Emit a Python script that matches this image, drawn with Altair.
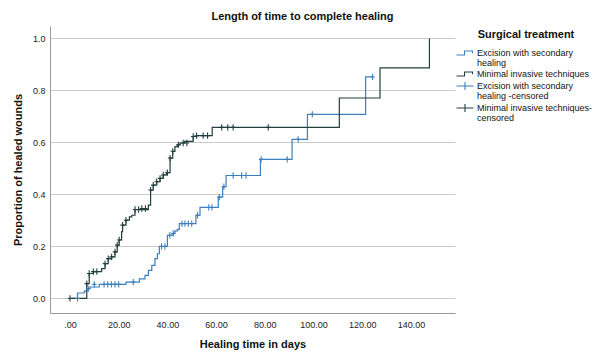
import altair as alt
import pandas as pd

EXC = "Excision with secondary healing"
MIT = "Minimal invasive techniques"
EXC_C = "Excision with secondary healing -censored"
MIT_C = "Minimal invasive techniques-censored"

# Kaplan-Meier style step curves (day, cumulative proportion healed)
exc_days = [0, 3.1, 5.9, 6.8, 8.2, 12.0, 23.0, 28.5, 30.8, 32.2, 33.6, 34.9, 35.9, 36.7,
            40.0, 42.4, 43.1, 44.1, 44.9, 51.7, 53.4, 60.9, 62.7, 64.1, 78.2, 91.2, 97.5,
            121.4, 124.3]
exc_prop = [0, 0.021, 0.028, 0.037, 0.044, 0.054, 0.063, 0.075, 0.089, 0.108, 0.127, 0.153,
            0.172, 0.200, 0.243, 0.250, 0.260, 0.266, 0.288, 0.320, 0.350, 0.390, 0.430,
            0.473, 0.535, 0.612, 0.708, 0.852, 0.852]

mit_days = [0, 6.9, 7.9, 9.6, 13.0, 14.4, 15.7, 17.1, 18.5, 19.4, 20.2, 21.2, 21.6, 23.0,
            24.4, 25.4, 26.7, 32.2, 33.1, 34.2, 35.6, 37.0, 38.3, 39.7, 41.1, 42.2, 43.1,
            44.1, 45.2, 47.0, 50.6, 52.0, 58.4, 110.6, 127.3, 147.6]
mit_prop = [0, 0.057, 0.096, 0.103, 0.115, 0.134, 0.153, 0.160, 0.179, 0.205, 0.225, 0.257,
            0.282, 0.301, 0.314, 0.320, 0.342, 0.359, 0.417, 0.436, 0.449, 0.462, 0.475,
            0.484, 0.540, 0.566, 0.584, 0.591, 0.598, 0.604, 0.623, 0.626, 0.658, 0.771,
            0.887, 1.0]

# censored observations
exc_cens_days = [3.1, 7.5, 10.0, 14.0, 15.5, 17.0, 18.5, 20.0, 26.0, 37.6, 39.0, 41.0, 42.4,
                 46.0, 47.2, 48.6, 50.0, 52.4, 57.0, 58.3, 61.3, 63.2, 67.0, 70.5, 72.3,
                 78.5, 89.2, 93.7, 99.5, 124.3]
exc_cens_prop = [0, 0.037, 0.054, 0.054, 0.054, 0.054, 0.054, 0.054, 0.063, 0.200, 0.200,
                 0.243, 0.250, 0.288, 0.288, 0.288, 0.288, 0.320, 0.350, 0.350, 0.390,
                 0.430, 0.473, 0.473, 0.473, 0.535, 0.535, 0.612, 0.708, 0.852]

mit_cens_days = [0, 6.9, 7.9, 9.6, 11.0, 14.4, 15.7, 17.1, 18.5, 19.4, 20.2, 21.6, 23.0,
                 26.7, 28.2, 29.5, 31.0, 33.1, 34.2, 35.6, 37.0, 38.3, 40.0, 41.1, 42.2,
                 44.5, 46.5, 48.0, 50.6, 52.0, 54.7, 56.5, 62.3, 64.8, 67.0, 81.4]
mit_cens_prop = [0, 0.057, 0.096, 0.103, 0.103, 0.134, 0.153, 0.160, 0.179, 0.205, 0.225,
                 0.282, 0.301, 0.342, 0.342, 0.346, 0.346, 0.417, 0.436, 0.449, 0.462,
                 0.475, 0.484, 0.540, 0.566, 0.591, 0.598, 0.598, 0.623, 0.626, 0.626,
                 0.626, 0.658, 0.658, 0.658, 0.658]

x_ticks = [0, 20, 40, 60, 80, 100, 120, 140]
y_ticks = [0.0, 0.2, 0.4, 0.6, 0.8, 1.0]

groups = [EXC, MIT, EXC_C, MIT_C]
colors = ["#3c7fbe", "#223f40", "#3c7fbe", "#223f40"]

steps = pd.concat([
    pd.DataFrame({"day": exc_days, "prop": exc_prop, "group": EXC}),
    pd.DataFrame({"day": mit_days, "prop": mit_prop, "group": MIT}),
])
cens = pd.concat([
    pd.DataFrame({"day": exc_cens_days, "prop": exc_cens_prop, "group": EXC_C}),
    pd.DataFrame({"day": mit_cens_days, "prop": mit_cens_prop, "group": MIT_C}),
])

PLUS_LEG = "M-1.7,0H1.7M0,-0.8V0.8"
STEP_LEG = "M-1.7,0.4H-0.1V-0.4H1.5V0.05"
shapes = [STEP_LEG, STEP_LEG, PLUS_LEG, PLUS_LEG]

label_expr = (
    f"datum.label == '{EXC}' ? ['Excision with secondary', 'healing'] : "
    f"datum.label == '{EXC_C}' ? ['Excision with secondary', 'healing -censored'] : "
    f"datum.label == '{MIT_C}' ? ['Minimal invasive techniques-', 'censored'] : datum.label"
)

legend = alt.Legend(
    title="Surgical treatment",
    orient="none",
    legendX=409,
    legendY=3,
    titleFontSize=11,
    titleFontWeight="bold",
    titleAnchor="middle",
    titleColor="#111",
    titlePadding=7,
    labelFontSize=9,
    labelColor="#111",
    labelExpr=label_expr,
    labelOffset=6,
    symbolSize=100,
    symbolStrokeWidth=1.1,
    symbolOpacity=1,
    symbolFillColor="transparent",
    rowPadding=0,
)

color = alt.Color("group:N", scale=alt.Scale(domain=groups, range=colors), legend=legend)
shape = alt.Shape("group:N", scale=alt.Scale(domain=groups, range=shapes), legend=legend)

x_enc = alt.X("day:Q", scale=alt.Scale(domain=[-8.2, 158.1], nice=False, zero=False),
              axis=alt.Axis(values=x_ticks, title="Healing time in days",
                            labelExpr="datum.value == 0 ? '.00' : format(datum.value, '.2f')",
                            ticks=False, grid=False, domainColor="#9a9a9a",
                            labelFontSize=9, labelColor="#222", labelPadding=7,
                            titleFontSize=11, titleFontWeight="bold", titleColor="#111",
                            titlePadding=9))
y_enc = alt.Y("prop:Q", scale=alt.Scale(domain=[-0.056, 1.048], nice=False, zero=False),
              axis=alt.Axis(values=y_ticks, format=".1f", title="Proportion of healed wounds",
                            ticks=False, grid=True, gridColor="#c9c9c9", domainColor="#9a9a9a",
                            labelFontSize=9, labelColor="#222", labelPadding=5,
                            titleFontSize=11, titleFontWeight="bold", titleColor="#111",
                            titlePadding=9))

lines = alt.Chart(steps).mark_line(interpolate="step-after", strokeWidth=1.2).encode(
    x=x_enc, y=y_enc, color=color, detail="group:N")

points = alt.Chart(cens).mark_point(shape="M-0.7,0H0.7M0,-1V1", filled=False, size=40,
                                     strokeWidth=1.1, opacity=1).encode(
    x="day:Q", y="prop:Q", color=color)

# invisible layer that only drives the legend symbols
ghost = alt.Chart(cens).mark_point(filled=False, opacity=0, size=100).encode(
    x="day:Q", y="prop:Q", color=color, shape=shape)

chart = alt.layer(lines, points, ghost).properties(
    width=405, height=287,
    title=alt.TitleParams("Length of time to complete healing", fontSize=11,
                          fontWeight="bold", anchor="middle", dx=50, offset=4, color="#111"),
    autosize=alt.AutoSizeParams(type="none"),
    padding={"left": 42, "top": 18, "right": 140, "bottom": 38},
).configure(
    font="Liberation Sans",
    style={"guide-label": {"lineHeight": 9.5}},
).configure_view(stroke=None)

chart.save("out.html", embed_options={"renderer": "svg", "actions": False})
